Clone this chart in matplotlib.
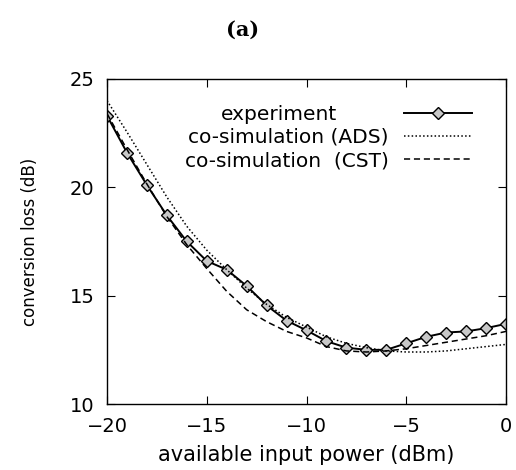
import numpy as np
import matplotlib.pyplot as plt

# input power (dBm)
power = np.arange(-20, 1, 1)

# measured conversion loss (dB)
experiment = [23.3, 21.6, 20.1, 18.7, 17.5, 16.6, 16.2, 15.45, 14.55, 13.85, 13.4,
              12.9, 12.6, 12.5, 12.5, 12.8, 13.1, 13.3, 13.35, 13.5, 13.7]
# co-simulation results (dB)
ads = [24.0, 22.55, 21.05, 19.55, 18.2, 17.1, 16.2, 15.35, 14.6, 14.0, 13.55,
       13.1, 12.8, 12.6, 12.45, 12.4, 12.4, 12.45, 12.55, 12.65, 12.75]
cst = [23.4, 21.75, 20.15, 18.65, 17.35, 16.25, 15.2, 14.35, 13.8, 13.35, 13.05,
       12.65, 12.45, 12.4, 12.45, 12.55, 12.7, 12.85, 13.0, 13.15, 13.35]

x_ticks = [-20, -15, -10, -5, 0]
y_ticks = [10, 15, 20, 25]

fig = plt.figure(figsize=(5.16, 4.70), dpi=100)
ax = fig.add_axes([0.2074, 0.1404, 0.7732, 0.6916])

l_exp, = ax.plot(power, experiment, color='black', lw=1.4, marker='D', ms=6,
                 mfc='#c8c8c8', mec='black', mew=1.0, label='experiment')
l_ads, = ax.plot(power, ads, color='black', lw=1.1, linestyle=(0, (1, 1.5)),
                 label='co-simulation (ADS)')
l_cst, = ax.plot(power, cst, color='black', lw=1.1, linestyle=(0, (4, 2.5)),
                 label='co-simulation  (CST)')

ax.set_xlim(-20, 0)
ax.set_ylim(10, 25)
ax.set_xticks(x_ticks)
ax.set_yticks(y_ticks)
ax.tick_params(direction='in', length=6, top=True, right=True, labelsize=14, pad=9)
for s in ax.spines.values():
    s.set_linewidth(1.0)

ax.set_xlabel('available input power (dBm)', fontsize=15, labelpad=7)
ax.set_ylabel('conversion loss (dB)', fontsize=12, labelpad=22)

# gnuplot-style key: text before sample; "experiment" sits a bit further left
key = dict(loc='upper right', frameon=False, fontsize=14.5, markerfirst=False,
           handlelength=3.4, labelspacing=0.23, borderaxespad=0)
leg1 = ax.legend(handles=[l_exp], bbox_to_anchor=(0.935, 0.945),
                 handletextpad=3.3, **key)
ax.add_artist(leg1)
ax.legend(handles=[l_ads, l_cst], bbox_to_anchor=(0.935, 0.945 - 23 / 325),
          handletextpad=0.75, **key)

fig.text(0.471, 0.936, '(a)', ha='center', va='center', fontsize=15,
         family='DejaVu Serif', weight='bold')

plt.savefig('out.png', dpi=100)
